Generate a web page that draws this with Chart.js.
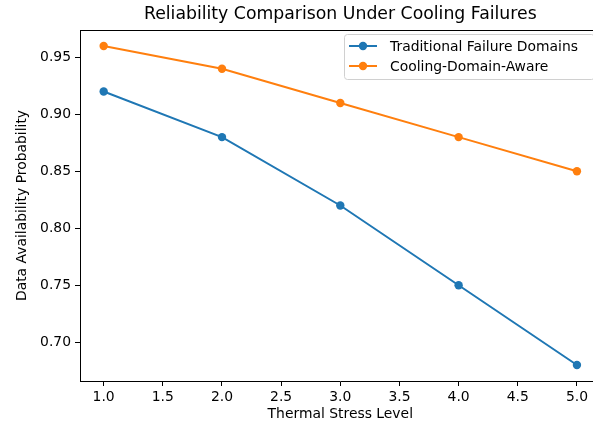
<!DOCTYPE html>
<html>
<head>
<meta charset="utf-8">
<script src="https://cdn.jsdelivr.net/npm/chart.js@4"></script>
<style>
  body { margin: 0; overflow: hidden; background: #fff; }
  #wrap { width: 640px; height: 423px; }
</style>
</head>
<body>
<div id="wrap"><canvas id="grafico"></canvas></div>
<script>
const niveles = [1, 2, 3, 4, 5];
const tradicional = [0.92, 0.88, 0.82, 0.75, 0.68];
const enfriamiento = [0.96, 0.94, 0.91, 0.88, 0.85];
const ticksX = [1.0, 1.5, 2.0, 2.5, 3.0, 3.5, 4.0, 4.5, 5.0];
const ticksY = [0.70, 0.75, 0.80, 0.85, 0.90, 0.95];
const titulo = "Reliability Comparison Under Cooling Failures";

const fuente = "'DejaVu Sans', sans-serif";
const azul = "#1f77b4";
const naranja = "#ff7f0e";

// el canvas es mas ancho que la ventana: el eje derecho queda fuera, como en la imagen
// titulo, marco superior y leyenda dentro del area, estilo matplotlib
const extras = {
  id: "extras",
  afterDraw(chart) {
    const { ctx, chartArea } = chart;
    ctx.save();
    ctx.fillStyle = "#000";
    ctx.font = "17.3px " + fuente;
    ctx.textAlign = "center";
    ctx.textBaseline = "middle";
    ctx.fillText(titulo, (chartArea.left + chartArea.right) / 2, 15);
    ctx.textAlign = "left";

    // borde derecho visible no deseado: se tapa el margen junto al corte
    ctx.fillStyle = "#fff";
    ctx.fillRect(585, chartArea.top + 1, chart.width - 585, chartArea.bottom - chartArea.top - 2);

    ctx.strokeStyle = "#000";
    ctx.lineWidth = 1;
    ctx.beginPath();
    ctx.moveTo(chartArea.left, chartArea.top + 0.5);
    ctx.lineTo(chart.width, chartArea.top + 0.5);
    ctx.stroke();

    const x0 = 344, y0 = 34, w = 250, h = 45;
    ctx.fillStyle = "rgba(255,255,255,0.8)";
    ctx.strokeStyle = "#d0d0d0";
    ctx.beginPath();
    ctx.roundRect(x0 + 0.5, y0 + 0.5, w, h, 3);
    ctx.fill();
    ctx.stroke();

    ctx.font = "13.9px " + fuente;
    ctx.textBaseline = "middle";
    chart.data.datasets.forEach((ds, i) => {
      const y = y0 + 12 + i * 20;
      ctx.strokeStyle = ds.borderColor;
      ctx.lineWidth = 2;
      ctx.beginPath();
      ctx.moveTo(x0 + 5, y);
      ctx.lineTo(x0 + 33, y);
      ctx.stroke();
      ctx.fillStyle = ds.borderColor;
      ctx.beginPath();
      ctx.arc(x0 + 19, y, 4.2, 0, Math.PI * 2);
      ctx.fill();
      ctx.fillStyle = "#000";
      ctx.fillText(ds.label, x0 + 46, y + 1);
    });
    ctx.restore();
  }
};

new Chart(document.getElementById("grafico"), {
  type: "line",
  data: {
    datasets: [
      {
        label: "Traditional Failure Domains",
        data: niveles.map((n, i) => ({ x: n, y: tradicional[i] })),
        borderColor: azul,
        backgroundColor: azul,
        borderWidth: 2,
        pointRadius: 4.2,
        pointBorderWidth: 0,
        tension: 0
      },
      {
        label: "Cooling-Domain-Aware",
        data: niveles.map((n, i) => ({ x: n, y: enfriamiento[i] })),
        borderColor: naranja,
        backgroundColor: naranja,
        borderWidth: 2,
        pointRadius: 4.2,
        pointBorderWidth: 0,
        tension: 0
      }
    ]
  },
  options: {
    responsive: true,
    maintainAspectRatio: false,
    animation: false,
    layout: { autoPadding: false, padding: { left: 0, right: 39.4, top: 30, bottom: 0 } },
    plugins: {
      legend: { display: false },
      tooltip: { enabled: false },
      title: { display: false }
    },
    scales: {
      x: {
        type: "linear",
        min: 0.8,
        max: 5.2,
        afterBuildTicks: (s) => { s.ticks = ticksX.map(v => ({ value: v })); },
        afterFit: (s) => { s.height = 42; },
        ticks: {
          color: "#000",
          font: { family: fuente, size: 13.9 },
          padding: 3,
          maxRotation: 0,
          callback: (v) => Number(v).toFixed(1)
        },
        grid: { drawOnChartArea: false, tickLength: 5, color: "#000" },
        border: { display: true, color: "#000" },
        title: {
          display: true,
          text: "Thermal Stress Level",
          color: "#000",
          font: { family: fuente, size: 13.9 },
          padding: { top: 0, bottom: 0 }
        }
      },
      y: {
        min: 0.666,
        max: 0.974,
        afterBuildTicks: (s) => { s.ticks = ticksY.map(v => ({ value: v })); },
        afterFit: (s) => { s.width = 80; },
        ticks: {
          color: "#000",
          font: { family: fuente, size: 13.9 },
          padding: 4,
          callback: (v) => Number(v).toFixed(2)
        },
        grid: { drawOnChartArea: false, tickLength: 5, color: "#000" },
        border: { display: true, color: "#000" },
        title: {
          display: true,
          text: "Data Availability Probability",
          color: "#000",
          font: { family: fuente, size: 13.9 },
          padding: { top: 13.7, bottom: 0 }
        }
      }
    }
  },
  plugins: [extras]
});
</script>
</body>
</html>
